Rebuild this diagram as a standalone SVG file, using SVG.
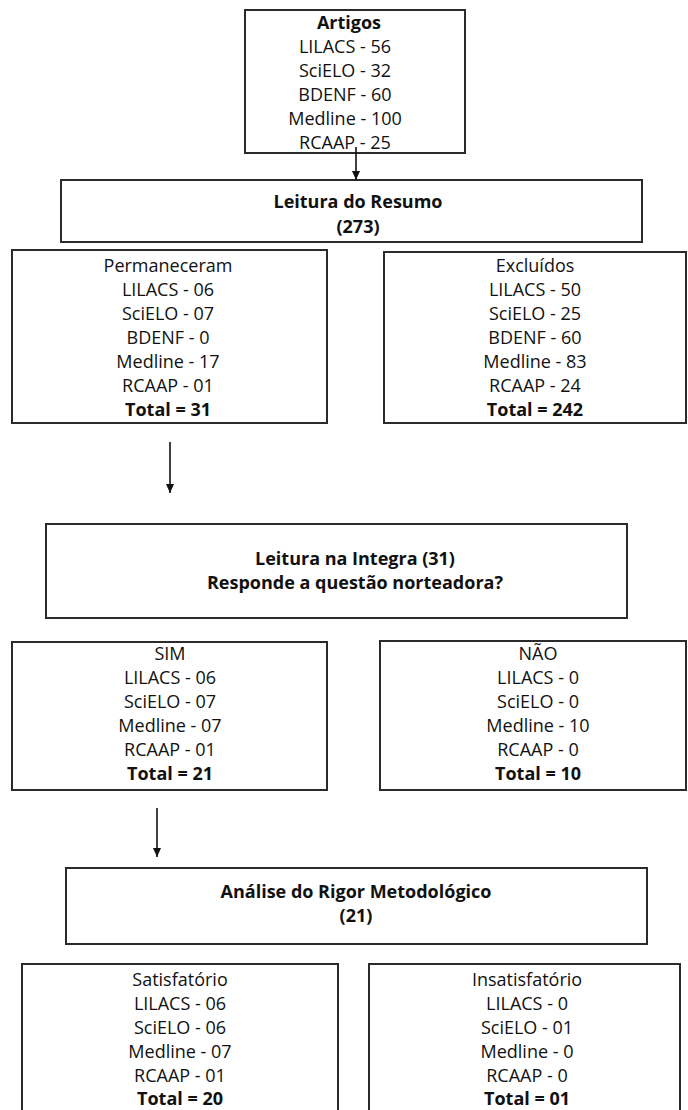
<svg xmlns="http://www.w3.org/2000/svg" width="688" height="1110" viewBox="0 0 688 1110">
<defs>
<style>
.box{fill:#fff;stroke:#2b2b2b;stroke-width:2}
.t{font-family:"Open Sans","Noto Sans",sans-serif;font-size:18px;fill:#111;text-anchor:middle}
.b{font-weight:bold}
.c{stroke:#111;stroke-width:1.6;fill:none}
</style>
<marker id="ah" markerWidth="9" markerHeight="8" refX="9" refY="4" orient="auto" markerUnits="userSpaceOnUse">
<path d="M0,0 L9,4 L0,8 z" fill="#111"/>
</marker>
</defs>
<rect width="688" height="1110" fill="#fff"/>

<g id="artigos">
<rect class="box" x="245" y="10" width="220" height="143"/>
<text class="t b" x="349" y="29">Artigos</text>
<text class="t" x="345" y="53">LILACS - 56</text>
<text class="t" x="345" y="77">SciELO - 32</text>
<text class="t" x="345" y="101">BDENF - 60</text>
<text class="t" x="345" y="125">Medline - 100</text>
<text class="t" x="345" y="149">RCAAP - 25</text>
</g>

<g id="leitura-resumo">
<rect class="box" x="61" y="180" width="581" height="62"/>
<text class="t b" x="358" y="208">Leitura do Resumo</text>
<text class="t b" x="358" y="233">(273)</text>
</g>

<g id="permaneceram">
<rect class="box" x="12" y="250" width="315" height="173"/>
<text class="t" x="168" y="272">Permaneceram</text>
<text class="t" x="168" y="296">LILACS - 06</text>
<text class="t" x="168" y="320">SciELO - 07</text>
<text class="t" x="168" y="344">BDENF - 0</text>
<text class="t" x="168" y="368">Medline - 17</text>
<text class="t" x="168" y="392">RCAAP - 01</text>
<text class="t b" x="168" y="416">Total = 31</text>
</g>

<g id="excluidos">
<rect class="box" x="384" y="252" width="302" height="171"/>
<text class="t" x="535" y="272">Excluídos</text>
<text class="t" x="535" y="296">LILACS - 50</text>
<text class="t" x="535" y="320">SciELO - 25</text>
<text class="t" x="535" y="344">BDENF - 60</text>
<text class="t" x="535" y="368">Medline - 83</text>
<text class="t" x="535" y="392">RCAAP - 24</text>
<text class="t b" x="535" y="416">Total = 242</text>
</g>

<g id="leitura-integra">
<rect class="box" x="46" y="524" width="581" height="94"/>
<text class="t b" x="355" y="565">Leitura na Integra (31)</text>
<text class="t b" x="355" y="589">Responde a questão norteadora?</text>
</g>

<g id="sim">
<rect class="box" x="12" y="642" width="315" height="148"/>
<text class="t" x="170" y="660">SIM</text>
<text class="t" x="170" y="684">LILACS - 06</text>
<text class="t" x="170" y="708">SciELO - 07</text>
<text class="t" x="170" y="732">Medline - 07</text>
<text class="t" x="170" y="756">RCAAP - 01</text>
<text class="t b" x="170" y="780">Total = 21</text>
</g>

<g id="nao">
<rect class="box" x="380" y="641" width="306" height="149"/>
<text class="t" x="538" y="660">NÃO</text>
<text class="t" x="538" y="684">LILACS - 0</text>
<text class="t" x="538" y="708">SciELO - 0</text>
<text class="t" x="538" y="732">Medline - 10</text>
<text class="t" x="538" y="756">RCAAP - 0</text>
<text class="t b" x="538" y="780">Total = 10</text>
</g>

<g id="analise">
<rect class="box" x="66" y="868" width="581" height="76"/>
<text class="t b" x="356" y="898">Análise do Rigor Metodológico</text>
<text class="t b" x="356" y="922">(21)</text>
</g>

<g id="satisfatorio">
<rect class="box" x="22" y="964" width="316" height="160"/>
<text class="t" x="180" y="986">Satisfatório</text>
<text class="t" x="180" y="1010">LILACS - 06</text>
<text class="t" x="180" y="1034">SciELO - 06</text>
<text class="t" x="180" y="1058">Medline - 07</text>
<text class="t" x="180" y="1082">RCAAP - 01</text>
<text class="t b" x="180" y="1105">Total = 20</text>
</g>

<g id="insatisfatorio">
<rect class="box" x="369" y="964" width="311" height="160"/>
<text class="t" x="527" y="986">Insatisfatório</text>
<text class="t" x="527" y="1010">LILACS - 0</text>
<text class="t" x="527" y="1034">SciELO - 01</text>
<text class="t" x="527" y="1058">Medline - 0</text>
<text class="t" x="527" y="1082">RCAAP - 0</text>
<text class="t b" x="527" y="1105">Total = 01</text>
</g>

<g id="connectors">
<line class="c" x1="356" y1="147" x2="356" y2="180" marker-end="url(#ah)"/>
<line class="c" x1="170" y1="442" x2="170" y2="493" marker-end="url(#ah)"/>
<line class="c" x1="157" y1="808" x2="157" y2="857" marker-end="url(#ah)"/>
</g>
</svg>
